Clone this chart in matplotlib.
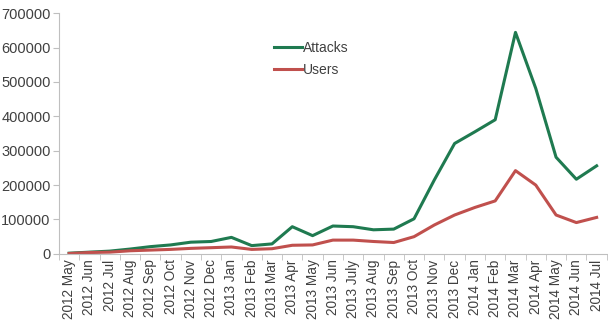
import matplotlib
matplotlib.use('Agg')
import matplotlib.pyplot as plt

months = ['2012 May', '2012 Jun', '2012 Jul', '2012 Aug', '2012 Sep', '2012 Oct',
          '2012 Nov', '2012 Dec', '2013 Jan', '2013 Feb', '2013 Mar', '2013 Apr',
          '2013 May', '2013 Jun', '2013 July', '2013 Aug', '2013 Sep', '2013 Oct',
          '2013 Nov', '2013 Dec', '2014 Jan', '2014 Feb', '2014 Mar', '2014 Apr',
          '2014 May', '2014 Jun', '2014 Jul']
attacks = [2000, 5000, 8000, 14000, 21000, 26000, 34000, 36000, 48000, 24000,
           29000, 79000, 53000, 81000, 79000, 70000, 72000, 102000, 215000,
           321000, 355000, 390000, 644000, 481000, 281000, 217000, 256000]
users = [1000, 4000, 5000, 9000, 11000, 13000, 16000, 18000, 20000, 13000,
         15000, 25000, 26000, 40000, 40000, 36000, 33000, 50000, 84000,
         113000, 135000, 154000, 242000, 200000, 113000, 91000, 106000]

plt.rcParams['font.family'] = ['Liberation Sans', 'DejaVu Sans']
txt = '#404040'
grey = '#bfbfbf'

fig = plt.figure(figsize=(6.08, 3.28), dpi=100)
ax = fig.add_axes([0.097, 0.226, 0.901, 0.734])

x = range(len(months))
ax.plot(x, attacks, color='#1f7a50', lw=2.2, label='Attacks')
ax.plot(x, users, color='#c0504d', lw=2.2, label='Users')

ax.set_xlim(-0.5, len(months) - 0.5)
ax.set_ylim(0, 700000)
ax.set_yticks(range(0, 700001, 100000))
ax.set_yticklabels([str(v) for v in range(0, 700001, 100000)], fontsize=10.5, color=txt)
ax.set_xticks(list(x))
ax.set_xticklabels(months, rotation=90, fontsize=9.8, color=txt)
ax.set_xticks([i - 0.5 for i in range(len(months) + 1)], minor=True)
ax.tick_params(axis='x', which='major', length=0, pad=4)
ax.tick_params(axis='x', which='minor', length=4, color=grey, direction='out')
ax.tick_params(axis='y', length=4, color=grey, pad=2)

for s in ['top', 'right']:
    ax.spines[s].set_visible(False)
ax.spines['left'].set_color(grey)
ax.spines['bottom'].set_color(grey)

leg = ax.legend(loc='upper left', bbox_to_anchor=(0.37, 0.935), frameon=False,
                fontsize=10, handlelength=2.0, handletextpad=0.1, labelspacing=0.55)
for t in leg.get_texts():
    t.set_color(txt)

fig.savefig('out.png', dpi=100)
